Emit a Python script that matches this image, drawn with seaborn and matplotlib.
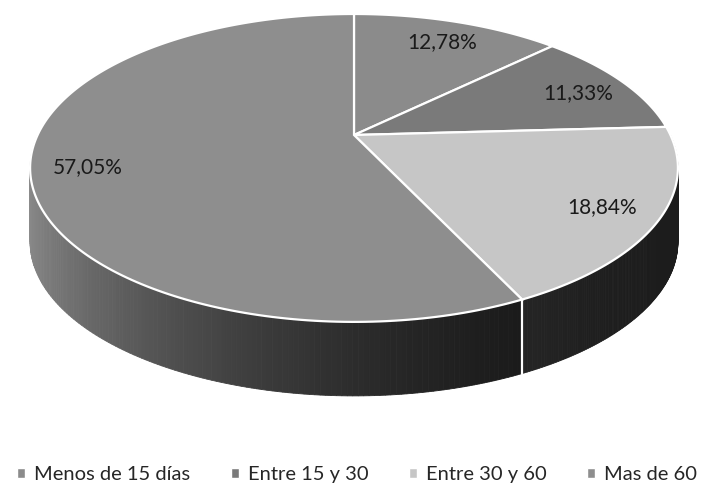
import numpy as np
import matplotlib.pyplot as plt
from matplotlib.patches import Patch
import seaborn as sns

# Datos del gráfico
categorias = ["Menos de 15 días", "Entre 15 y 30", "Entre 30 y 60", "Mas de 60"]
porcentajes = [12.78, 11.33, 18.84, 57.05]
colores = ["#8b8b8b", "#7a7a7a", "#c6c6c6", "#8e8e8e"]

sns.set_style("white")
plt.rcParams["font.family"] = ["Lato", "DejaVu Sans"]

# Proyección en perspectiva del disco (píxeles de la figura)
cx, cy = 354, 135      # vértice del pastel
A, B = 316.4, 146.9    # semiejes
k = 0.214              # profundidad de la perspectiva
grosor = 74            # altura del cilindro en píxeles


def proyectar(t, r=1.0):
    x, y = r * np.cos(t), r * np.sin(t)
    w = 1 + k * y
    return cx + A * x / w, cy - B * y / w


def luz(t):
    return 0.14 + 0.86 * ((1 - np.cos(t)) / 2) ** 2.3


fig = plt.figure(figsize=(7.14, 4.95), dpi=100)
ax = fig.add_axes([0, 0, 1, 1])

angulos = np.radians(90 - 360 * np.concatenate([[0], np.cumsum(porcentajes)]) / 100)

# Paredes laterales visibles (mitad frontal)
for a0, a1, col in zip(angulos[:-1], angulos[1:], colores):
    lo, hi = max(a1, -np.pi), min(a0, 0)
    if lo >= hi:
        continue
    base = np.array(plt.matplotlib.colors.to_rgb(col))
    t = np.linspace(lo, hi, 150)
    for t0, t1 in zip(t[:-1], t[1:]):
        x0, y0 = proyectar(t0)
        x1, y1 = proyectar(t1)
        c = np.clip(base * luz((t0 + t1) / 2), 0, 1)
        ax.fill([x0, x1, x1, x0], [y0, y1, y1 + grosor, y0 + grosor],
                color=c, lw=0.6, zorder=1)
for a in angulos[1:-1]:
    if -np.pi < a < 0:
        x0, y0 = proyectar(a)
        ax.plot([x0, x0], [y0, y0 + grosor], color="white", lw=1.6, zorder=2)

# Cara superior
for a0, a1, col in zip(angulos[:-1], angulos[1:], colores):
    t = np.linspace(a0, a1, 200)
    xs, ys = proyectar(t)
    ax.fill(np.r_[cx, xs], np.r_[cy, ys], facecolor=col, edgecolor="white",
            lw=1.6, joinstyle="miter", zorder=3)

# Etiquetas de porcentaje
for a0, a1, p in zip(angulos[:-1], angulos[1:], porcentajes):
    tx, ty = proyectar((a0 + a1) / 2, r=0.83)
    ax.text(tx, ty + 4, f"{p:.2f}%".replace(".", ","), ha="center", va="center",
            fontsize=15, color="#1a1a1a", zorder=4)

ax.set_xlim(0, 714)
ax.set_ylim(495, 0)
ax.axis("off")

handles = [Patch(facecolor=c) for c in colores]
fig.legend(handles, categorias, loc="lower center", bbox_to_anchor=(0.5, -0.012),
           ncol=4, frameon=False, fontsize=14.5, handlelength=0.4,
           handleheight=0.4, columnspacing=2.0, handletextpad=0.45)

fig.savefig("out.png", dpi=100)
